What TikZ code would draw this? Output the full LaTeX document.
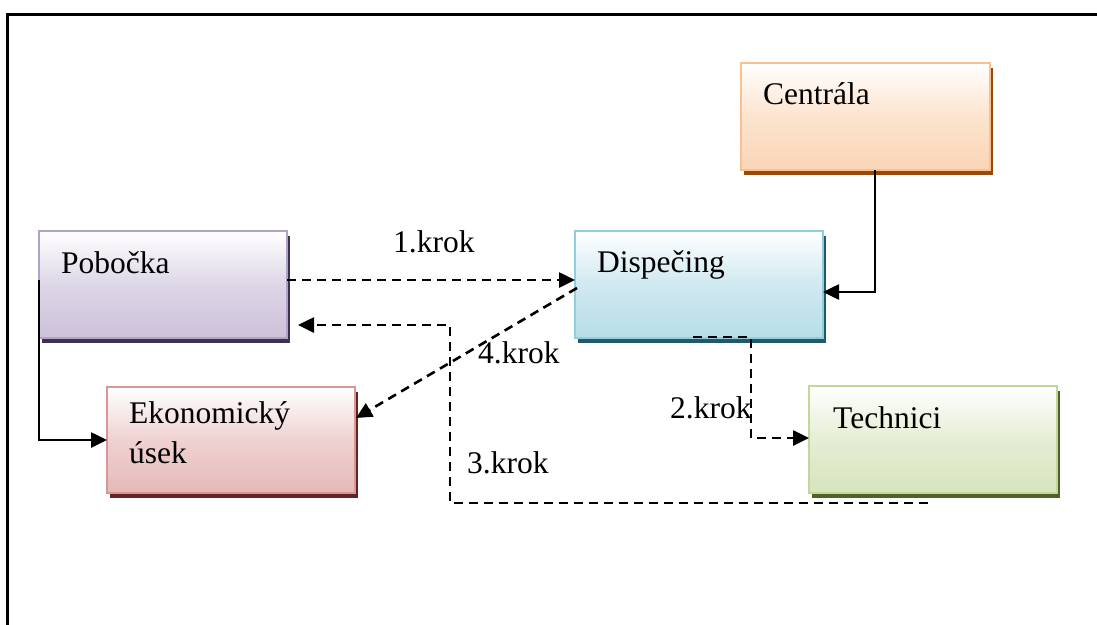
\documentclass[tikz,border=0pt]{standalone}
\usepackage{fontspec}
\setmainfont{Liberation Serif}
\newfontfamily\diagfont{Liberation Serif}
\usetikzlibrary{arrows.meta,calc,shadows}

\definecolor{pobB}{HTML}{B3A2C7}\definecolor{pobF}{HTML}{CCC1DA}\definecolor{pobS}{HTML}{3F3151}
\definecolor{ekoB}{HTML}{D99694}\definecolor{ekoF}{HTML}{E6B9B8}\definecolor{ekoS}{HTML}{632523}
\definecolor{cenB}{HTML}{FAC090}\definecolor{cenF}{HTML}{FBD5B5}\definecolor{cenS}{HTML}{984807}
\definecolor{disB}{HTML}{92CDDC}\definecolor{disF}{HTML}{B7DDE8}\definecolor{disS}{HTML}{215968}
\definecolor{tecB}{HTML}{C3D69B}\definecolor{tecF}{HTML}{D7E4BD}\definecolor{tecS}{HTML}{4F6228}

\tikzset{
  unitbox/.style n args={3}{
    rectangle, inner sep=0pt, outer sep=0pt, anchor=north west,
    minimum width=248pt, minimum height=107pt,
    draw=#1, line width=2.2pt,
    top color=white, bottom color=#2, middle color=#2!65,
    general shadow={fill=#3, shadow xshift=3pt, shadow yshift=-5pt}
  },
  boxtext/.style={anchor=base west, inner sep=0pt, font=\diagfont\fontsize{31.5}{40}\selectfont, align=left},
  steplabel/.style={anchor=base west, inner sep=0pt, font=\diagfont\fontsize{31.5}{40}\selectfont},
  flow/.style={line width=2.6pt, -{Triangle[length=16pt,width=15pt]}},
  flowdash/.style={flow, dash pattern=on 9pt off 6pt}
}

\begin{document}
\begin{tikzpicture}[x=1pt,y=-1pt]
\useasboundingbox (0,0) rectangle (1097,624);
\fill[white] (0,0) rectangle (1097,624);

% outer frame (continues past the right and bottom edges)
\draw[line width=2.8pt] (1120,14.5) -- (7.5,14.5) -- (7.5,650);

% units
\node[unitbox={pobB}{pobF}{pobS}] (pob) at (39,231) {};
\node[unitbox={ekoB}{ekoF}{ekoS}, minimum height=106pt] (eko) at (107,387) {};
\node[unitbox={cenB}{cenF}{cenS}, minimum width=249pt] (cen) at (741,63) {};
\node[unitbox={disB}{disF}{disS}] (dis) at (575,231) {};
\node[unitbox={tecB}{tecF}{tecS}] (tec) at (809,386) {};

\node[boxtext] (pobT) at (61,273) {Pobočka};
\node[boxtext] (ekoT) at (129,463) {Ekonomický\\úsek};
\node[boxtext] (cenT) at (763,104) {Centrála};
\node[boxtext] (disT) at (597,272) {Dispečing};
\node[boxtext] (tecT) at (833,428) {Technici};

% step labels
\node[steplabel] (k1) at (393,252) {1.krok};
\node[steplabel] (k2) at (670,418) {2.krok};
\node[steplabel] (k3) at (467,473) {3.krok};
\node[steplabel] (k4) at (478,363) {4.krok};

% solid links
\draw[flow] ($(cen.south west)+(134,0)$) |- ($(dis.north east)+(0,61)$);
\draw[flow] ($(pob.north west)+(0,49)$) |- ($(eko.north west)+(0,53)$);

% 1. krok
\draw[flowdash] ($(pob.north east)+(0,49)$) -- ($(dis.north west)+(0,49)$);
% 2. krok
\coordinate (d2) at (751,337);
\draw[flowdash] ($(dis.south west)+(118,-1)$) -- (d2) |- ($(tec.north west)+(0,52)$);
% 3. krok
\coordinate (d3a) at (450,503);
\coordinate (d3b) at (450,325);
\draw[flowdash] ($(tec.south west)+(119,10)$) -- (d3a) -- (d3b) -- ($(pob.north east)+(11,94)$);
% 4. krok
\draw[flowdash] ($(dis.north west)+(2,57)$) -- ($(eko.north east)+(1,31)$);
\end{tikzpicture}
\end{document}
